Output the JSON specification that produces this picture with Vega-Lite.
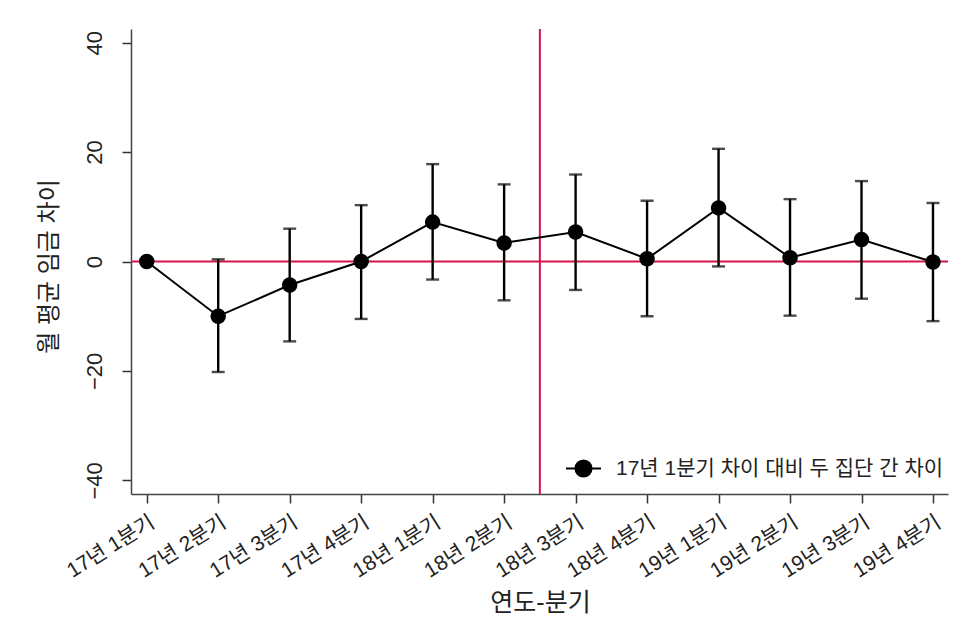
{
  "$schema": "https://vega.github.io/schema/vega-lite/v6.json",
  "width": 817,
  "height": 465,
  "autosize": "none",
  "padding": {"left": 131, "top": 29, "right": 17, "bottom": 136},
  "background": "white",
  "config": {
    "view": {"stroke": null},
    "font": "Liberation Sans, Noto Sans CJK KR",
    "axis": {
      "grid": false,
      "domainColor": "#444",
      "domainWidth": 1.5,
      "tickColor": "#333",
      "tickWidth": 1.5,
      "tickSize": 9,
      "labelColor": "#222",
      "titleColor": "#222",
      "titleFontWeight": "normal"
    }
  },
  "data": {
    "values": [
      {"t": 1, "quarter": "17년 1분기", "diff": 0.0, "lo": null, "hi": null, "series": "17년 1분기 차이 대비 두 집단 간 차이"},
      {"t": 2, "quarter": "17년 2분기", "diff": -10.0, "lo": -20.2, "hi": 0.4, "series": "17년 1분기 차이 대비 두 집단 간 차이"},
      {"t": 3, "quarter": "17년 3분기", "diff": -4.3, "lo": -14.6, "hi": 6.0, "series": "17년 1분기 차이 대비 두 집단 간 차이"},
      {"t": 4, "quarter": "17년 4분기", "diff": 0.0, "lo": -10.5, "hi": 10.3, "series": "17년 1분기 차이 대비 두 집단 간 차이"},
      {"t": 5, "quarter": "18년 1분기", "diff": 7.2, "lo": -3.3, "hi": 17.8, "series": "17년 1분기 차이 대비 두 집단 간 차이"},
      {"t": 6, "quarter": "18년 2분기", "diff": 3.4, "lo": -7.1, "hi": 14.1, "series": "17년 1분기 차이 대비 두 집단 간 차이"},
      {"t": 7, "quarter": "18년 3분기", "diff": 5.4, "lo": -5.2, "hi": 15.9, "series": "17년 1분기 차이 대비 두 집단 간 차이"},
      {"t": 8, "quarter": "18년 4분기", "diff": 0.5, "lo": -10.0, "hi": 11.1, "series": "17년 1분기 차이 대비 두 집단 간 차이"},
      {"t": 9, "quarter": "19년 1분기", "diff": 9.8, "lo": -0.9, "hi": 20.6, "series": "17년 1분기 차이 대비 두 집단 간 차이"},
      {"t": 10, "quarter": "19년 2분기", "diff": 0.7, "lo": -9.9, "hi": 11.4, "series": "17년 1분기 차이 대비 두 집단 간 차이"},
      {"t": 11, "quarter": "19년 3분기", "diff": 4.0, "lo": -6.8, "hi": 14.7, "series": "17년 1분기 차이 대비 두 집단 간 차이"},
      {"t": 12, "quarter": "19년 4분기", "diff": -0.1, "lo": -10.9, "hi": 10.7, "series": "17년 1분기 차이 대비 두 집단 간 차이"}
    ]
  },
  "encoding": {
    "x": {
      "field": "t",
      "type": "quantitative",
      "scale": {"domain": [0.78, 12.21], "nice": false, "zero": false},
      "axis": {
        "values": [1, 2, 3, 4, 5, 6, 7, 8, 9, 10, 11, 12],
        "labelExpr": "['17년 1분기','17년 2분기','17년 3분기','17년 4분기','18년 1분기','18년 2분기','18년 3분기','18년 4분기','19년 1분기','19년 2분기','19년 3분기','19년 4분기'][datum.value - 1]",
        "labelAngle": -32,
        "labelAlign": "right",
        "labelBaseline": "top",
        "labelFontSize": 21,
        "labelPadding": 8,
        "labelOverlap": false,
        "labelLimit": 0,
        "title": "연도-분기",
        "titleFontSize": 25,
        "titleX": 409,
        "titleY": 116,
        "titleAlign": "center",
        "titleBaseline": "alphabetic"
      }
    }
  },
  "layer": [
    {
      "data": {"values": [{"zero": 0}]},
      "mark": {"type": "rule", "color": "#d4144a", "strokeWidth": 2},
      "encoding": {"x": null, "y": {"field": "zero", "type": "quantitative", "scale": {"domain": [-42.5, 42.5], "nice": false}}}
    },
    {
      "data": {"values": [{"cut": 6.5}]},
      "mark": {"type": "rule", "color": "#d4144a", "strokeWidth": 2},
      "encoding": {"x": {"field": "cut", "type": "quantitative"}}
    },
    {
      "mark": {"type": "errorbar", "ticks": true, "size": 13, "thickness": 2.4, "color": "black"},
      "encoding": {
        "y": {"field": "lo", "type": "quantitative", "title": "월 평균 임금 차이"},
        "y2": {"field": "hi"}
      }
    },
    {
      "mark": {"type": "line", "color": "black", "strokeWidth": 2},
      "encoding": {"y": {"field": "diff", "type": "quantitative"}}
    },
    {
      "mark": {"type": "point", "filled": true, "opacity": 1, "size": 240},
      "encoding": {
        "y": {
          "field": "diff",
          "type": "quantitative",
          "scale": {"domain": [-42.5, 42.5], "nice": false},
          "axis": {
            "values": [-40, -20, 0, 20, 40],
            "labelAngle": -90,
            "labelAlign": "center",
            "labelBaseline": "bottom",
            "labelFontSize": 22,
            "labelPadding": 16,
            "title": "월 평균 임금 차이",
            "titleFontSize": 24,
            "titleX": -70,
            "titleY": 237,
            "titleAngle": -90,
            "titleAlign": "center",
            "titleBaseline": "bottom"
          }
        },
        "color": {
          "field": "series",
          "type": "nominal",
          "scale": {"range": ["black"]},
          "legend": {
            "title": null,
            "orient": "none",
            "legendX": 434,
            "legendY": 421,
            "symbolType": "M-1,0L1,0M-0.46,0A0.46,0.46,0,1,1,0.46,0A0.46,0.46,0,1,1,-0.46,0Z",
            "symbolSize": 1225,
            "symbolStrokeWidth": 2,
            "symbolStrokeColor": "black",
            "symbolFillColor": "black",
            "labelFontSize": 21,
            "labelLimit": 0,
            "labelColor": "#222",
            "labelOffset": 14
          }
        }
      }
    }
  ]
}
